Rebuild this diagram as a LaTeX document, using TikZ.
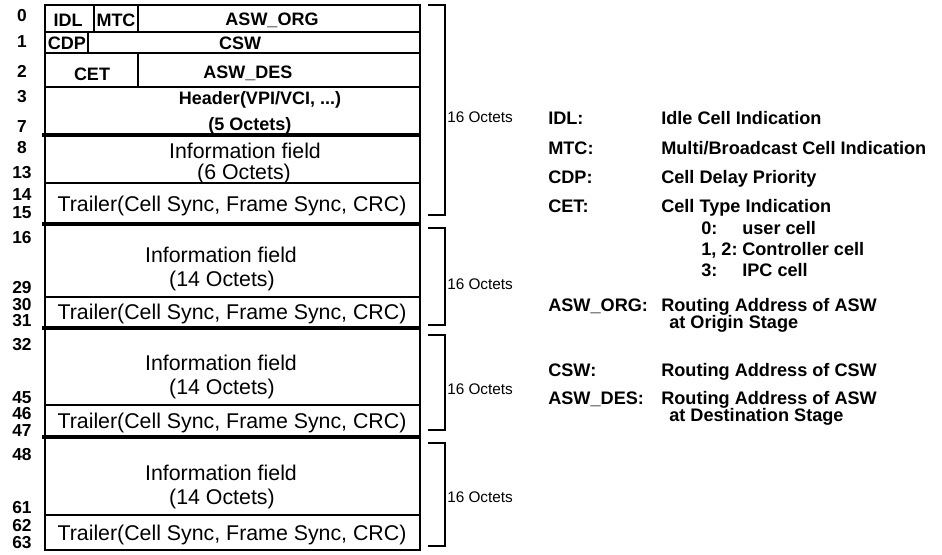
\documentclass[tikz,border=0pt]{standalone}
\usepackage{fontspec}
\setmainfont{Liberation Sans}

\tikzset{
  rowno/.style={font=\bfseries\fontsize{13}{14}\selectfont, inner sep=0pt},
  fld/.style={font=\bfseries\fontsize{13.5}{15}\selectfont, inner sep=0pt},
  body/.style={font=\fontsize{16}{18}\selectfont, inner sep=0pt},
  octs/.style={font=\fontsize{11.5}{13}\selectfont, anchor=west, inner sep=0pt},
  legkey/.style={font=\bfseries\fontsize{13.6}{15}\selectfont, anchor=base west, inner sep=0pt},
  rule/.style={line width=1pt},
  cellrule/.style={line width=2.6pt},
  brace/.style={line width=1pt}
}

\begin{document}
\begin{tikzpicture}[x=0.75pt,y=-0.75pt]
  \useasboundingbox (0,0) rectangle (942,555);

  % frame and rows
  \draw[rule] (45,5) rectangle (420,550);
  \foreach \y in {32,53,87,183,297,405,515} \draw[rule] (45,\y) -- (420,\y);
  \foreach \y in {135,224,328,437} \draw[cellrule] (42,\y) -- (420,\y);
  \draw[rule] (94,5) -- (94,32); \draw[rule] (138,5) -- (138,32);
  \draw[rule] (88,32) -- (88,53); \draw[rule] (138,53) -- (138,87);

  % header octets
  \node[fld] (idl) at (68,20) {IDL}; \node[fld] (mtc) at (116,20) {MTC};
  \node[fld] (aswo) at (272,20) {ASW\_ORG};
  \node[fld] (cdp) at (67,43) {CDP}; \node[fld] (csw) at (240,43) {CSW};
  \node[fld] (cet) at (92,74) {CET}; \node[fld] (aswd) at (248,73) {ASW\_DES};
  \node[fld] (hdr) at (260,100) {Header(VPI/VCI, ...)};
  \node[fld] (hdro) at (250,126) {(5 Octets)};

  % information and trailer fields
  \node[body] (inf1) at (245,151) {Information field};
  \node[body] (inf1o) at (244,174) {(6 Octets)};
  \foreach \i/\a/\b in {2/255/281,3/363/389,4/473/499} {
    \node[body] (inf\i) at (221,\a) {Information field};
    \node[body] (inf\i o) at (222,\b) {(14 Octets)};
  }
  \foreach \i/\y in {1/206,2/314,3/423,4/535}
    \node[body] (trl\i) at (232,\y) {Trailer(Cell Sync, Frame Sync, CRC)};

  % octet numbers
  \foreach \n/\y in {0/16,1/42,2/71,3/97,7/127,8/148,13/173,14/195,15/213,
                     16/238,29/288,30/305,31/321,32/345,45/398,46/414,47/431,
                     48/455,61/508,62/526,63/543}
    \node[rowno] (r\n) at (22,\y) {\n};

  % brackets
  \foreach \i/\t/\b/\m in {1/5/215/117,2/228/325/284,3/335/430/389,4/443/546/497} {
    \draw[brace] (428,\t) -- (445,\t) -- (445,\b) -- (428,\b);
    \node[octs] (oct\i) at (447,\m) {16 Octets};
  }

  % legend (base lines)
  \node[legkey] (kidl) at (548,125) {IDL:};
  \node[legkey] (didl) at (661,125) {Idle Cell Indication};
  \node[legkey] (kmtc) at (548,155) {MTC:};
  \node[legkey] (dmtc) at (661,155) {Multi/Broadcast Cell Indication};
  \node[legkey] (kcdp) at (548,184) {CDP:};
  \node[legkey] (dcdp) at (661,184) {Cell Delay Priority};
  \node[legkey] (kcet) at (548,213) {CET:};
  \node[legkey] (dcet) at (661,213) {Cell Type Indication};
  \node[legkey] (n0) at (701,235) {0:};     \node[legkey] (t0) at (742,235) {user cell};
  \node[legkey] (n12) at (701,256) {1, 2:}; \node[legkey] (t12) at (742,256) {Controller cell};
  \node[legkey] (n3) at (701,277) {3:};     \node[legkey] (t3) at (742,277) {IPC cell};
  \node[legkey] (kaswo) at (548,312) {ASW\_ORG:};
  \node[legkey] (daswo) at (661,312) {Routing Address of ASW};
  \node[legkey] (daswo2) at (669,329) {at Origin Stage};
  \node[legkey] (kcsw) at (548,377) {CSW:};
  \node[legkey] (dcsw) at (661,377) {Routing Address of CSW};
  \node[legkey] (kaswd) at (548,405) {ASW\_DES:};
  \node[legkey] (daswd) at (661,405) {Routing Address of ASW};
  \node[legkey] (daswd2) at (669,422) {at Destination Stage};
\end{tikzpicture}
\end{document}
